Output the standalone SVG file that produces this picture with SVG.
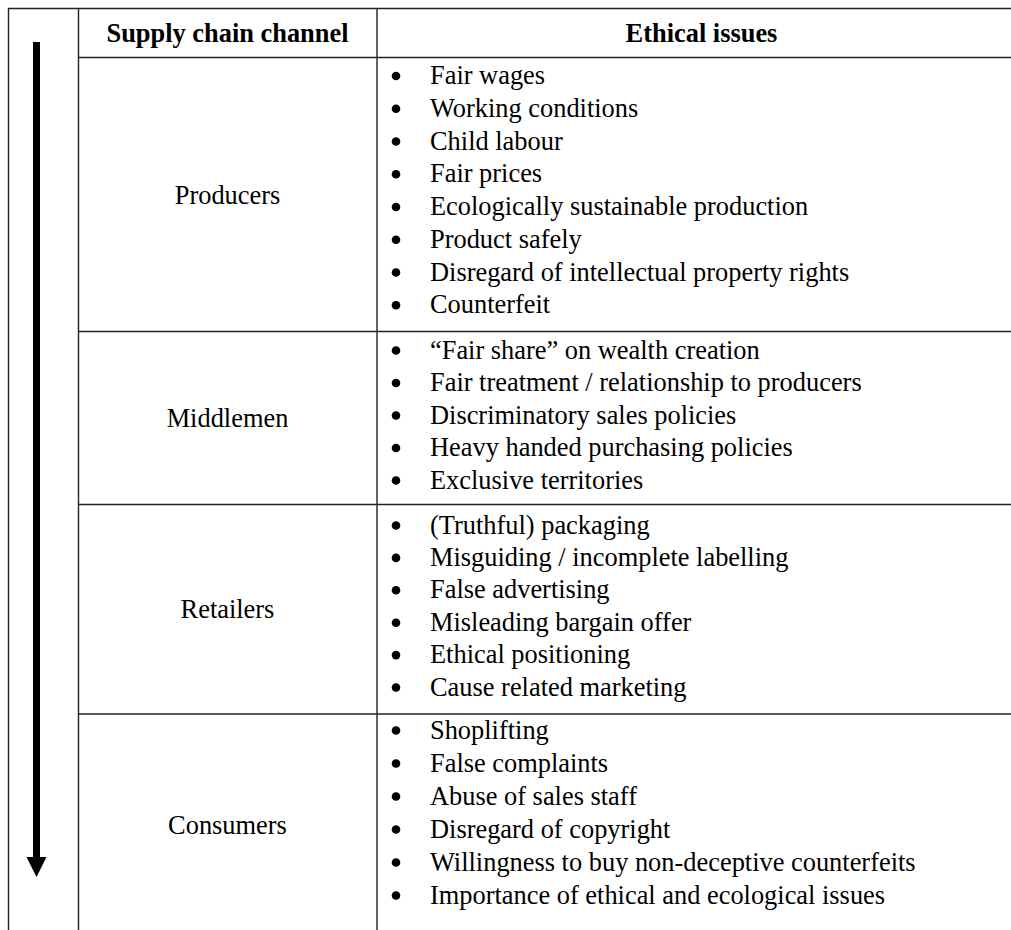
<svg xmlns="http://www.w3.org/2000/svg" width="1011" height="930" viewBox="0 0 1011 930">
<style>
.ln{stroke:#222;stroke-width:1.4;fill:none}
.t{font-family:"Liberation Serif","Times New Roman",serif;font-size:26.4px;fill:#000}
.h{font-family:"Liberation Serif","Times New Roman",serif;font-size:26.4px;font-weight:bold;fill:#000;text-anchor:middle}
.c{text-anchor:middle}
.b{fill:#000}
</style>
<rect width="1011" height="930" fill="#fff"/>
<g id="grid">
<line class="ln" x1="8" y1="8.5" x2="1011" y2="8.5"/>
<line class="ln" x1="8.5" y1="8" x2="8.5" y2="930"/>
<line class="ln" x1="78.5" y1="8" x2="78.5" y2="930"/>
<line class="ln" x1="377" y1="8" x2="377" y2="930"/>
<line class="ln" x1="78" y1="57.5" x2="1011" y2="57.5"/>
<line class="ln" x1="78" y1="331.5" x2="1011" y2="331.5"/>
<line class="ln" x1="78" y1="504.5" x2="1011" y2="504.5"/>
<line class="ln" x1="78" y1="714" x2="1011" y2="714"/>
</g>
<g id="header">
<text class="h" x="227.5" y="42">Supply chain channel</text>
<text class="h" x="701.5" y="42">Ethical issues</text>
</g>
<g id="producers">
<text class="t c" x="227.5" y="203.5">Producers</text>
<g class="b">
<circle cx="396" cy="76" r="4.3"/><circle cx="396" cy="108.75" r="4.3"/><circle cx="396" cy="141.5" r="4.3"/><circle cx="396" cy="174.25" r="4.3"/><circle cx="396" cy="207" r="4.3"/><circle cx="396" cy="239.75" r="4.3"/><circle cx="396" cy="272.5" r="4.3"/><circle cx="396" cy="305.25" r="4.3"/>
</g>
<text class="t" x="430" y="84">Fair wages</text>
<text class="t" x="430" y="116.75">Working conditions</text>
<text class="t" x="430" y="149.5">Child labour</text>
<text class="t" x="430" y="182.25">Fair prices</text>
<text class="t" x="430" y="215">Ecologically sustainable production</text>
<text class="t" x="430" y="247.75">Product safely</text>
<text class="t" x="430" y="280.5">Disregard of intellectual property rights</text>
<text class="t" x="430" y="313.25">Counterfeit</text>
</g>
<g id="middlemen">
<text class="t c" x="227.5" y="427">Middlemen</text>
<g class="b">
<circle cx="396" cy="350.5" r="4.3"/><circle cx="396" cy="383" r="4.3"/><circle cx="396" cy="415.5" r="4.3"/><circle cx="396" cy="448" r="4.3"/><circle cx="396" cy="480.5" r="4.3"/>
</g>
<text class="t" x="430" y="358.5">“Fair share” on wealth creation</text>
<text class="t" x="430" y="391">Fair treatment / relationship to producers</text>
<text class="t" x="430" y="423.5">Discriminatory sales policies</text>
<text class="t" x="430" y="456">Heavy handed purchasing policies</text>
<text class="t" x="430" y="488.5">Exclusive territories</text>
</g>
<g id="retailers">
<text class="t c" x="227.5" y="618">Retailers</text>
<g class="b">
<circle cx="396" cy="525.5" r="4.3"/><circle cx="396" cy="557.9" r="4.3"/><circle cx="396" cy="590.3" r="4.3"/><circle cx="396" cy="622.7" r="4.3"/><circle cx="396" cy="655.1" r="4.3"/><circle cx="396" cy="687.5" r="4.3"/>
</g>
<text class="t" x="430" y="533.5">(Truthful) packaging</text>
<text class="t" x="430" y="565.9">Misguiding / incomplete labelling</text>
<text class="t" x="430" y="598.3">False advertising</text>
<text class="t" x="430" y="630.7">Misleading bargain offer</text>
<text class="t" x="430" y="663.1">Ethical positioning</text>
<text class="t" x="430" y="695.5">Cause related marketing</text>
</g>
<g id="consumers">
<text class="t c" x="227.5" y="833.5">Consumers</text>
<g class="b">
<circle cx="396" cy="730.5" r="4.3"/><circle cx="396" cy="763.5" r="4.3"/><circle cx="396" cy="796.5" r="4.3"/><circle cx="396" cy="829.5" r="4.3"/><circle cx="396" cy="862.5" r="4.3"/><circle cx="396" cy="895.5" r="4.3"/>
</g>
<text class="t" x="430" y="738.5">Shoplifting</text>
<text class="t" x="430" y="771.5">False complaints</text>
<text class="t" x="430" y="804.5">Abuse of sales staff</text>
<text class="t" x="430" y="837.5">Disregard of copyright</text>
<text class="t" x="430" y="870.5">Willingness to buy non-deceptive counterfeits</text>
<text class="t" x="430" y="903.5">Importance of ethical and ecological issues</text>
</g>
<g id="connectors">
<rect x="33" y="42" width="7" height="816" fill="#000"/>
<polygon points="26.5,857 46.5,857 36.5,877" fill="#000"/>
</g>
</svg>
